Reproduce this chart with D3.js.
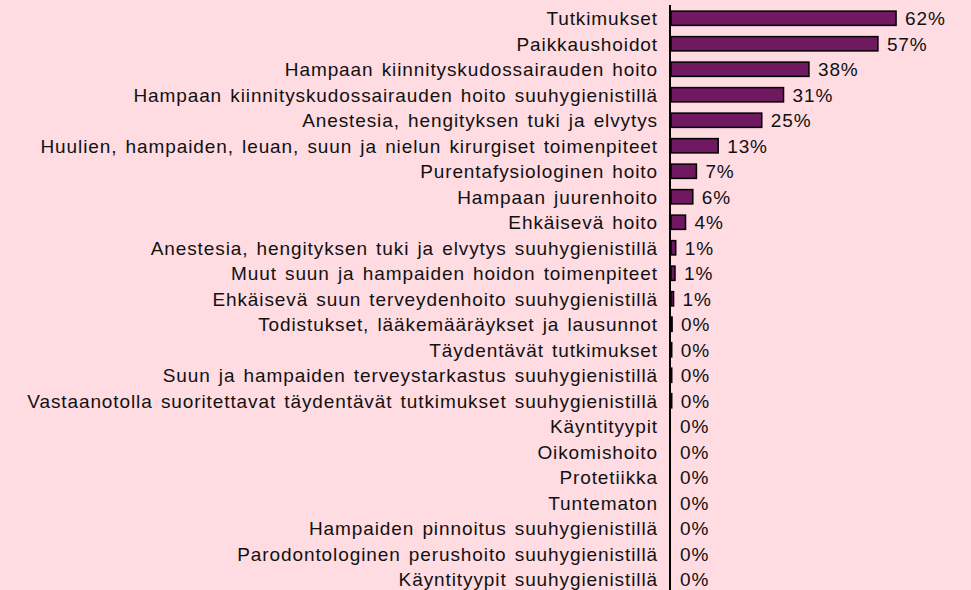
<!DOCTYPE html>
<html>
<head>
<meta charset="utf-8">
<script src="https://cdn.jsdelivr.net/npm/d3@7"></script>
<style>
  body { margin: 0; background: #ffdbe2; }
  text { font-family: Arial, "Liberation Sans", sans-serif; fill: #111; letter-spacing: 0.9px; word-spacing: 2px; }
</style>
</head>
<body>
<div id="chart"></div>
<script>
// categories and percentages
var categories = [
  "Tutkimukset",
  "Paikkaushoidot",
  "Hampaan kiinnityskudossairauden hoito",
  "Hampaan kiinnityskudossairauden hoito suuhygienistillä",
  "Anestesia, hengityksen tuki ja elvytys",
  "Huulien, hampaiden, leuan, suun ja nielun kirurgiset toimenpiteet",
  "Purentafysiologinen hoito",
  "Hampaan juurenhoito",
  "Ehkäisevä hoito",
  "Anestesia, hengityksen tuki ja elvytys suuhygienistillä",
  "Muut suun ja hampaiden hoidon toimenpiteet",
  "Ehkäisevä suun terveydenhoito suuhygienistillä",
  "Todistukset, lääkemääräykset ja lausunnot",
  "Täydentävät tutkimukset",
  "Suun ja hampaiden terveystarkastus suuhygienistillä",
  "Vastaanotolla suoritettavat täydentävät tutkimukset suuhygienistillä",
  "Käyntityypit",
  "Oikomishoito",
  "Protetiikka",
  "Tuntematon",
  "Hampaiden pinnoitus suuhygienistillä",
  "Parodontologinen perushoito suuhygienistillä",
  "Käyntityypit suuhygienistillä"
];
var values = [62, 57, 38, 31, 25, 13, 7, 6, 4, 1.3, 1.1, 0.7, 0.3, 0.2, 0.2, 0.2, 0, 0, 0, 0, 0, 0, 0];
var valueLabels = ["62%", "57%", "38%", "31%", "25%", "13%", "7%", "6%", "4%", "1%", "1%", "1%",
  "0%", "0%", "0%", "0%", "0%", "0%", "0%", "0%", "0%", "0%", "0%"];

var svgWidth = 971;
var svgHeight = 590;
var axisX = 670;

var svg = d3.select("#chart")
    .append("svg")
    .attr("width", svgWidth)
    .attr("height", svgHeight);

svg.append("rect")
    .attr("width", svgWidth)
    .attr("height", svgHeight)
    .attr("fill", "#ffdbe2");

// 1% is about 3.63px
var xScale = d3.scaleLinear()
    .domain([0, 100])
    .range([axisX + 1, axisX + 364]);

var yScale = d3.scaleBand()
    .domain(categories)
    .range([5.5, 592])
    .paddingInner(0.44)
    .paddingOuter(0.22);

// bars
svg.selectAll("rect.bar")
    .data(values)
    .enter()
    .append("rect")
    .classed("bar", true)
    .attr("x", xScale(0))
    .attr("y", (d, i) => yScale(categories[i]))
    .attr("width", d => xScale(d) - xScale(0))
    .attr("height", yScale.bandwidth())
    .attr("fill", "#701860")
    .attr("stroke", "#000")
    .attr("stroke-width", 1.5);

// category labels
svg.selectAll("text.cat")
    .data(categories)
    .enter()
    .append("text")
    .classed("cat", true)
    .attr("x", axisX - 12)
    .attr("y", d => yScale(d) + yScale.bandwidth() / 2)
    .attr("dy", "0.36em")
    .attr("text-anchor", "end")
    .attr("font-size", "19px")
    .text(d => d);

// value labels
svg.selectAll("text.val")
    .data(values)
    .enter()
    .append("text")
    .classed("val", true)
    .attr("x", d => xScale(d) + 9)
    .attr("y", (d, i) => yScale(categories[i]) + yScale.bandwidth() / 2)
    .attr("dy", "0.36em")
    .attr("font-size", "19px")
    .text((d, i) => valueLabels[i]);

// vertical axis line
var yAxis = d3.axisLeft(yScale).tickSize(0).tickFormat("");
svg.append("g")
    .attr("transform", `translate(${axisX}, 0)`)
    .call(yAxis)
    .call(g => g.select(".domain").attr("stroke", "#000").attr("stroke-width", 2)
        .attr("d", "M0,5V590"));
</script>
</body>
</html>
